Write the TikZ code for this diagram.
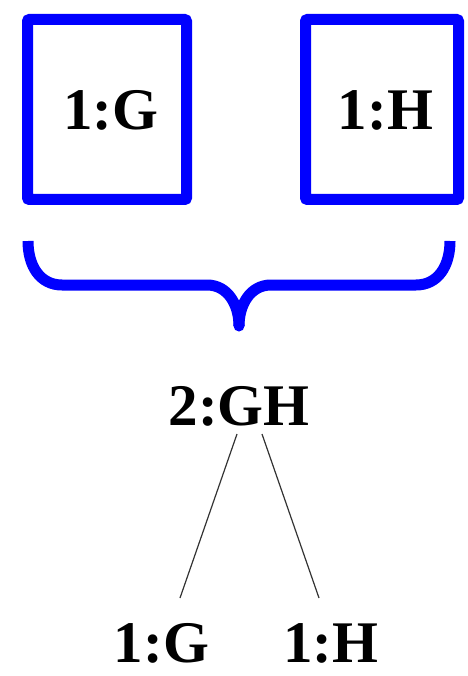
\documentclass[tikz,border=0pt]{standalone}
\usepackage{fontspec}
\setmainfont{Liberation Serif}
\definecolor{pureblue}{RGB}{0,0,255}
\begin{document}
\begin{tikzpicture}[x=1pt,y=-1pt,
  bluebox/.style={draw=pureblue,line width=11pt,rounded corners=2pt,minimum width=#1,minimum height=180pt,inner sep=0pt,outer sep=0pt},
  lab/.style={font=\fontsize{59}{59}\selectfont\bfseries,anchor=base,inner sep=0pt},
  brace/.style={draw=pureblue,line width=11pt,line cap=butt},
  edge/.style={draw=black!80,line width=1.2pt}]
\useasboundingbox (0,0) rectangle (467,676);
\node[bluebox=159pt] (bg) at (107,109.5) {};
\node[bluebox=153pt] (bh) at (382,109.5) {};
\node[lab] (tg) at (111,130) {1:G};
\node[lab] (th) at (385.5,130) {1:H};
\draw[brace] (28,241) .. controls (28,266) and (40,285) .. (62,285) -- (207,285) .. controls (228,285) and (239,305) .. (239,326);
\draw[brace] (450,241) .. controls (450,266) and (438,285) .. (416,285) -- (271,285) .. controls (250,285) and (239,305) .. (239,326);
\fill[pureblue] (239,326) circle (5.5pt);
\node[lab] (gh) at (239,425) {2:GH};
\node[lab] (g) at (161.5,662) {1:G};
\node[lab] (h) at (331,662) {1:H};
\coordinate (ghl) at (237,434);
\coordinate (ghr) at (262,434);
\coordinate (gt) at (180,598);
\coordinate (ht) at (319,598);
\draw[edge] (ghl) -- (gt);
\draw[edge] (ghr) -- (ht);
\end{tikzpicture}
\end{document}
